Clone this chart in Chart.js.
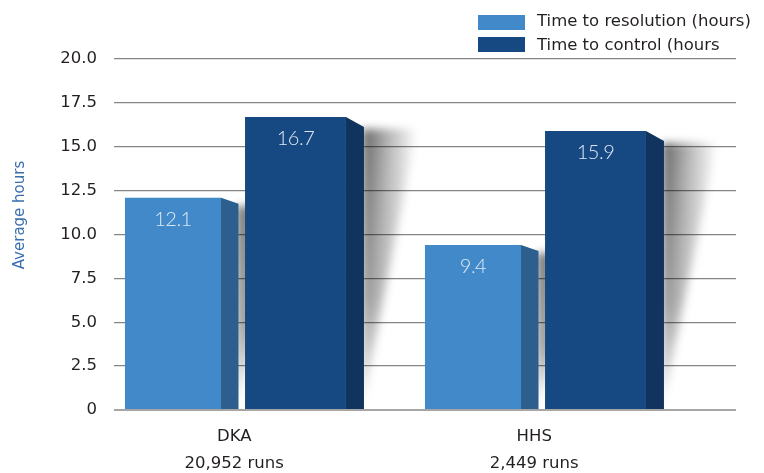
<!DOCTYPE html>
<html>
<head>
<meta charset="utf-8">
<script src="https://cdn.jsdelivr.net/npm/chart.js@4.4.1/dist/chart.umd.min.js"></script>
<style>
  html, body { margin: 0; padding: 0; background: #ffffff; }
  #wrap { width: 764px; height: 473px; position: relative; }
</style>
</head>
<body>
<div id="wrap"><canvas id="chart"></canvas></div>
<script>
// ---- data ----
const categories = ['DKA', 'HHS'];
const runCounts = ['20,952 runs', '2,449 runs'];
const seriesNames = ['Time to resolution (hours)', 'Time to control (hours'];
const resolutionHours = [12.1, 9.4];
const controlHours = [16.7, 15.9];
const yTickLabels = ['0', '2.5', '5.0', '7.5', '10.0', '12.5', '15.0', '17.5', '20.0'];

const FONT = '"DejaVu Sans", Verdana, sans-serif';
const LABEL_FONT = 'Lato, "Open Sans", sans-serif';
const TEXT = '#231f20';

// soft drop shadow falling to the right of a bar
function paintShadow(ctx, x0, top, base, spread, strength) {
  const h = Math.max(1, Math.round(base - top));
  const off = document.createElement('canvas');
  off.width = Math.ceil(spread) + 4;
  off.height = h + 4;
  const o = off.getContext('2d');
  const gx = o.createLinearGradient(0, 0, spread, 0);
  gx.addColorStop(0, 'rgba(0,0,0,' + strength + ')');
  gx.addColorStop(0.45, 'rgba(0,0,0,' + (strength * 0.5) + ')');
  gx.addColorStop(1, 'rgba(0,0,0,0)');
  o.fillStyle = gx;
  o.beginPath();
  o.moveTo(0, 0);
  o.lineTo(spread, 0);
  o.lineTo(0, h);
  o.closePath();
  o.fill();
  o.globalCompositeOperation = 'destination-in';
  const gy = o.createLinearGradient(0, 0, 0, h);
  gy.addColorStop(0, 'rgba(0,0,0,1)');
  gy.addColorStop(0.6, 'rgba(0,0,0,0.7)');
  gy.addColorStop(1, 'rgba(0,0,0,0.05)');
  o.fillStyle = gy;
  o.fillRect(0, 0, off.width, off.height);
  ctx.save();
  ctx.filter = 'blur(4px)';
  ctx.drawImage(off, x0, top);
  ctx.restore();
}

const bar3d = {
  id: 'bar3d',
  beforeDatasetsDraw(chart) {
    const ctx = chart.ctx;
    chart.data.datasets.forEach((ds, di) => {
      chart.getDatasetMeta(di).data.forEach((el) => {
        const right = el.x + el.width / 2 + ds.sideDepth;
        paintShadow(ctx, right - 2, el.y + ds.sideDrop + 2, el.base, ds.shadowSpread, 0.62);
      });
    });
  },
  afterDatasetsDraw(chart) {
    const ctx = chart.ctx;
    chart.data.datasets.forEach((ds, di) => {
      chart.getDatasetMeta(di).data.forEach((el, i) => {
        const r = el.x + el.width / 2;
        // side face
        ctx.save();
        ctx.fillStyle = ds.sideColor;
        ctx.beginPath();
        ctx.moveTo(r, el.y);
        ctx.lineTo(r + ds.sideDepth, el.y + ds.sideDrop);
        ctx.lineTo(r + ds.sideDepth, el.base);
        ctx.lineTo(r, el.base);
        ctx.closePath();
        ctx.fill();
        ctx.restore();
        // value label
        ctx.save();
        ctx.fillStyle = '#dfe8f3';
        ctx.font = '300 20px ' + LABEL_FONT;
        ctx.letterSpacing = '-0.5px';
        ctx.textAlign = 'center';
        ctx.textBaseline = 'middle';
        ctx.fillText(ds.data[i].y.toFixed(1), el.x, el.y + 22);
        ctx.restore();
      });
    });
  },
  afterDraw(chart) {
    const ctx = chart.ctx;
    // legend
    ctx.save();
    ctx.font = '16.5px ' + FONT;
    ctx.textBaseline = 'alphabetic';
    ctx.textAlign = 'left';
    chart.data.datasets.forEach((ds, di) => {
      const boxTop = 15 + di * 22;
      ctx.fillStyle = ds.backgroundColor;
      ctx.fillRect(478, boxTop, 47, 15);
      ctx.fillStyle = TEXT;
      ctx.fillText(ds.label, 537, 26 + di * 24);
    });
    ctx.restore();
    // y-axis title
    ctx.save();
    ctx.translate(20, 215);
    ctx.rotate(-Math.PI / 2);
    ctx.fillStyle = '#3a6fb0';
    ctx.font = '15px ' + FONT;
    ctx.textAlign = 'center';
    ctx.textBaseline = 'middle';
    ctx.fillText('Average hours', 0, 0);
    ctx.restore();
  }
};

const toPoints = (values) => values.map((v, i) => ({ x: i, y: v }));

new Chart(document.getElementById('chart'), {
  type: 'bar',
  data: {
    datasets: [
      {
        label: seriesNames[0],
        data: toPoints(resolutionHours),
        backgroundColor: '#4189c8',
        sideColor: '#2c5f8e',
        sideDepth: 17.5,
        sideDrop: 6,
        shadowSpread: 45,
        barPercentage: 0.784,
        categoryPercentage: 0.8167
      },
      {
        label: seriesNames[1],
        data: toPoints(controlHours),
        backgroundColor: '#164982',
        sideColor: '#11345e',
        sideDepth: 18,
        sideDrop: 10,
        shadowSpread: 55,
        barPercentage: 0.824,
        categoryPercentage: 0.8167
      }
    ]
  },
  options: {
    responsive: true,
    maintainAspectRatio: false,
    devicePixelRatio: 1,
    animation: false,
    layout: { padding: { top: 59, right: 28, left: 0, bottom: 0 } },
    plugins: {
      legend: { display: false },
      tooltip: { enabled: false }
    },
    scales: {
      x: {
        type: 'linear',
        offset: false,
        bounds: 'data',
        min: -0.4008,
        max: 1.6725,
        grid: { display: false, drawTicks: false, offset: false },
        border: { display: false },
        afterBuildTicks: (scale) => {
          scale.ticks = categories.map((_, i) => ({ value: i }));
        },
        afterFit: (scale) => { scale.height = 63; },
        ticks: {
          autoSkip: false,
          maxRotation: 0,
          padding: 14,
          color: TEXT,
          font: { family: FONT, size: 16.5, lineHeight: 1.6 },
          callback: (v) => [categories[v], runCounts[v]]
        }
      },
      y: {
        min: 0,
        max: 20,
        afterFit: (scale) => { scale.width = 114; },
        border: { display: false },
        grid: {
          drawTicks: false,
          color: (c) => (c.tick && c.tick.value === 0 ? '#a6a6a6' : '#858585'),
          lineWidth: (c) => (c.tick && c.tick.value === 0 ? 2 : 1.3)
        },
        ticks: {
          stepSize: 2.5,
          padding: 17,
          color: TEXT,
          font: { family: FONT, size: 16.5 },
          callback: (v, i) => yTickLabels[i]
        }
      }
    }
  },
  plugins: [bar3d]
});
</script>
</body>
</html>
